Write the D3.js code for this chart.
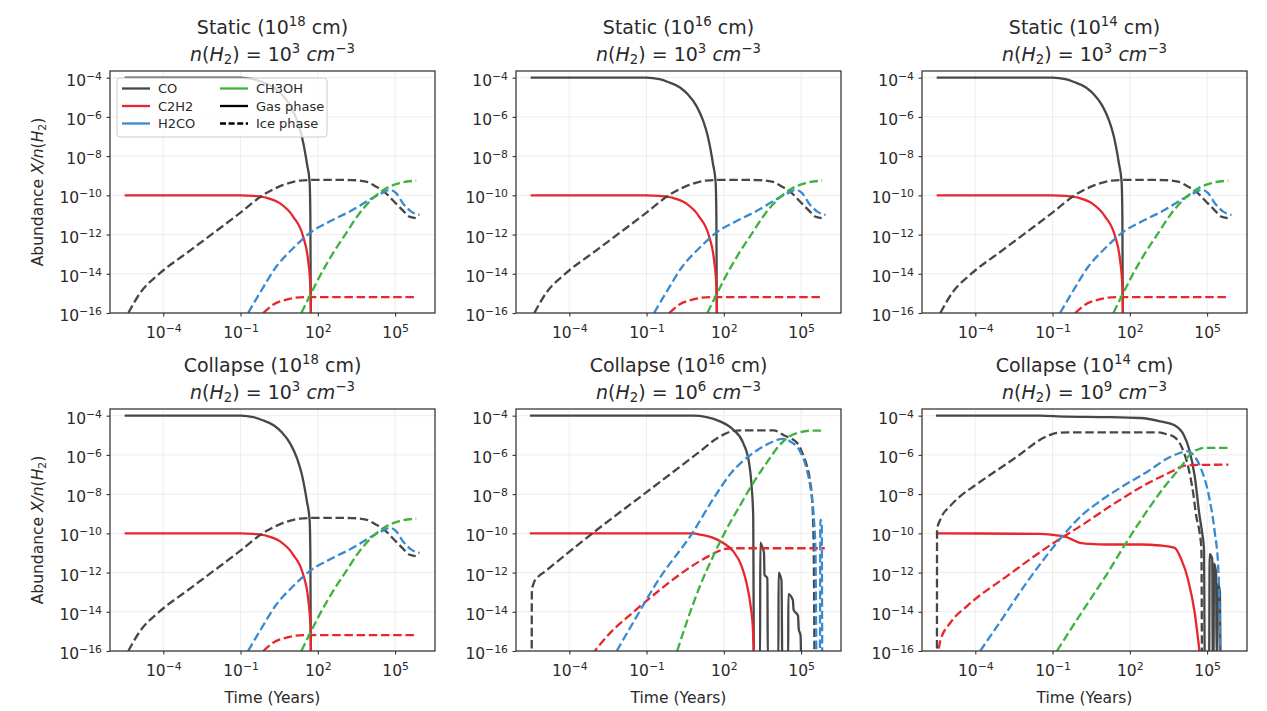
<!DOCTYPE html>
<html>
<head>
<meta charset="utf-8">
<script src="https://cdn.jsdelivr.net/npm/d3@7"></script>
<style>
body { margin: 0; background: #fff; }
svg { font-family: "DejaVu Sans", sans-serif; }
</style>
</head>
<body>
<svg id="fig" width="1267" height="711"></svg>
<script>
// species and styling
var species = ["CO", "C2H2", "H2CO", "CH3OH"];
var speciesColor = ["#474747", "#e8262b", "#3a8ad0", "#3cb33c"];

// ticks (powers of ten)
var xTickExp = [-4, -1, 2, 5];
var yTickExp = [-4, -6, -8, -10, -12, -14, -16];

// panel titles
var panelKind = ["Static", "Static", "Static", "Collapse", "Collapse", "Collapse"];
var panelSize = [18, 16, 14, 18, 16, 14];
var panelDensity = [3, 3, 3, 3, 6, 9];
var panelModel = ["static", "static", "static", "static", "c16", "c14"];

// curves: [log10 time (yr), log10 abundance]
// static runs (top row and collapse 1e18 look identical)
var staticCOGas = [[-5.5,-4],[-1.0,-4.0],[-0.5,-4.08],[-0.17,-4.22],[0.3,-4.5],[0.6,-4.85],[0.94,-5.45],[1.2,-6.2],[1.38,-7.0],[1.58,-8.4],[1.68,-9.3],[1.71,-11],[1.73,-16.5]];
var staticC2H2Gas = [[-5.5,-10],[-1.0,-10.0],[-0.5,-10.03],[0.0,-10.12],[0.52,-10.4],[1.04,-11.08],[1.43,-12.1],[1.62,-13.29],[1.71,-14.65],[1.74,-16.5]];
var staticCOIce = [[-5.36,-16],[-4.9,-14.98],[-4.13,-13.97],[-3.1,-12.95],[-2.06,-11.93],[-1.03,-10.91],[-0.12,-9.98],[0.66,-9.47],[1.3,-9.25],[1.94,-9.21],[3.3,-9.22],[3.87,-9.3],[4.25,-9.55],[4.64,-9.89],[5.02,-10.4],[5.28,-10.74],[5.54,-11.08],[5.8,-11.16]];
var staticC2H2Ice = [[-0.12,-16],[0.26,-15.58],[0.78,-15.32],[1.3,-15.2],[1.94,-15.19],[5.82,-15.19]];
var staticH2COIce = [[-0.71,-16],[-0.25,-14.98],[0.39,-13.63],[1.04,-12.7],[1.68,-11.93],[2.59,-11.25],[3.36,-10.74],[4.0,-10.23],[4.53,-9.86],[4.79,-9.72],[5.04,-9.89],[5.3,-10.4],[5.63,-10.83],[5.95,-11.0]];
var staticCH3OHIce = [[1.36,-16],[1.68,-15.15],[2.07,-14.14],[2.59,-12.95],[3.1,-11.93],[3.62,-10.91],[4.14,-10.15],[4.66,-9.64],[5.17,-9.38],[5.82,-9.25]];

// collapse 1e16 cm, n = 1e6
var c16COGas = [[-5.53,-4],[0.8,-4.0],[1.33,-4.07],[1.85,-4.29],[2.36,-4.71],[2.75,-5.39],[2.98,-6.4],[3.08,-7.6],[3.14,-9.1],[3.17,-16.5],
  [3.41,-16.5],[3.415,-10.47],[3.52,-10.8],[3.56,-11.0],[3.58,-12.1],[3.69,-12.3],[3.71,-16.5],
  [4.12,-16.5],[4.125,-12.0],[4.24,-12.4],[4.27,-16.5],
  [4.5,-16.5],[4.505,-13.1],[4.68,-13.4],[4.71,-13.9],[4.88,-14.2],[4.91,-14.9],[4.98,-15.2],[5.0,-16.5]];
var c16COIce = [[-5.46,-16.5],[-5.455,-13.0],[-5.4,-12.6],[-5.2,-12.2],[-5.0,-12.0],[-4.62,-11.6],[-3.2,-10.1],[-1.0,-7.9],[1.0,-5.9],[1.8,-5.1],[2.3,-4.8],[2.64,-4.75],[3.93,-4.75],[4.33,-5.0],[4.85,-5.39],[5.1,-6.07],[5.23,-6.58],[5.36,-7.43],[5.43,-8.28],[5.49,-10.8],[5.52,-16.5]];
var c16C2H2Gas = [[-5.53,-10],[0.8,-10.0],[1.07,-10.06],[1.59,-10.23],[1.98,-10.49],[2.36,-10.91],[2.69,-11.67],[2.88,-12.52],[3.04,-13.7],[3.13,-14.9],[3.17,-16.5]];
var c16C2H2Ice = [[-3.13,-16.2],[-2.5,-15.2],[-1.5,-14.0],[-0.5,-12.9],[0.5,-11.9],[1.5,-11.1],[1.98,-10.82],[2.36,-10.76],[5.92,-10.76]];
var c16H2COIce = [[-2.16,-16],[-1.5,-14.5],[-0.5,-12.3],[0.77,-10.0],[1.61,-8.2],[2.3,-6.9],[3.04,-6.0],[3.7,-5.45],[4.3,-5.18],[4.56,-5.3],[4.95,-5.8],[5.21,-6.7],[5.4,-8.0],[5.5,-9.3],[5.56,-11],[5.6,-16.5],[5.73,-16.5],[5.75,-9.3],[5.8,-9.5],[5.82,-16.5]];
var c16CH3OHIce = [[0.19,-16],[0.55,-14.56],[1.07,-12.7],[1.59,-11.16],[2.1,-9.8],[2.62,-8.6],[3.14,-7.43],[3.66,-6.41],[4.18,-5.48],[4.56,-5.05],[4.95,-4.85],[5.47,-4.76],[5.92,-4.76]];

// collapse 1e14 cm, n = 1e9
var c14COGas = [[-5.53,-4],[-1.5,-4.0],[-0.5,-4.05],[1.0,-4.07],[2.4,-4.12],[3.18,-4.29],[3.75,-4.5],[4.1,-5.0],[4.3,-5.7],[4.52,-7.09],[4.71,-9.13],[4.81,-9.97],[4.88,-10.82],[4.91,-16.5],
  [5.08,-16.5],[5.1,-11.06],[5.2,-11.3],[5.22,-16.5],[5.25,-16.5],[5.27,-11.55],[5.35,-12.0],[5.37,-16.5],[5.4,-16.5],[5.42,-12.56],[5.5,-13.0],[5.52,-16.5]];
var c14COIce = [[-5.49,-16.5],[-5.485,-9.8],[-5.36,-9.3],[-4.97,-8.6],[-4.58,-8.1],[-4.06,-7.6],[-2.5,-6.2],[-1.22,-5.05],[-0.83,-4.88],[-0.4,-4.85],[3.05,-4.85],[3.44,-4.95],[3.74,-5.1],[4.0,-5.56],[4.26,-6.58],[4.46,-7.94],[4.58,-9.13],[4.71,-9.97],[4.78,-10.82],[4.8,-16.5]];
var c14C2H2Gas = [[-5.53,-10],[-1.48,-10.03],[-0.83,-10.1],[-0.44,-10.2],[-0.18,-10.35],[0.07,-10.49],[0.46,-10.54],[1.11,-10.57],[2.4,-10.57],[3.18,-10.62],[3.74,-10.74],[4.0,-11.33],[4.26,-12.35],[4.52,-14.05],[4.65,-15.4],[4.75,-16.5]];
var c14C2H2Ice = [[-5.49,-16.5],[-5.36,-15.49],[-4.97,-14.56],[-4.32,-13.71],[-2.77,-12.18],[-0.96,-10.49],[0.12,-9.6],[1.42,-8.46],[2.71,-7.44],[3.62,-6.85],[4.0,-6.6],[4.26,-6.52],[5.83,-6.5]];
var c14H2COIce = [[-3.81,-16],[-3.03,-14.5],[-2.0,-12.5],[-0.64,-10.18],[0.12,-9.1],[0.8,-8.4],[1.42,-7.85],[2.71,-6.83],[3.62,-6.07],[4.26,-5.82],[4.5,-6.05],[4.78,-6.75],[5.1,-8.28],[5.3,-9.97],[5.43,-11.67],[5.49,-14.2],[5.52,-16.5]];
var c14CH3OHIce = [[-0.83,-16],[0.12,-14.05],[0.6,-13.1],[1.1,-12.1],[1.8,-10.6],[2.71,-8.78],[3.36,-7.6],[4.0,-6.58],[4.39,-5.9],[4.7,-5.7],[4.9,-5.64],[5.83,-5.64]];

// group curves per model: [data, species index, ice?]
var models = {
  static: [[staticCOGas,0,false],[staticC2H2Gas,1,false],[staticCOIce,0,true],[staticC2H2Ice,1,true],[staticH2COIce,2,true],[staticCH3OHIce,3,true]],
  c16: [[c16COGas,0,false],[c16C2H2Gas,1,false],[c16COIce,0,true],[c16C2H2Ice,1,true],[c16H2COIce,2,true],[c16CH3OHIce,3,true]],
  c14: [[c14COGas,0,false],[c14C2H2Gas,1,false],[c14COIce,0,true],[c14C2H2Ice,1,true],[c14H2COIce,2,true],[c14CH3OHIce,3,true]]
};

var colX = [110, 516, 922], rowY = [71, 409];
var pw = 325, ph = 242;
var dash = "8.5,3.7";
var tickFont = 15.5, titleFont = 19;

var svg = d3.select("#fig");
var defs = svg.append("defs");

// text with italic / super / subscript pieces
function rich(t, parts, size) {
    var shift = 0;
    parts.forEach(function (pt) {
        var s = t.append("tspan").text(pt[0]);
        var target = 0;
        if (pt[1] == "sup") { s.attr("font-size", size * 0.7); target = -size * 0.38; }
        if (pt[1] == "sub") { s.attr("font-size", size * 0.7); target = size * 0.2; }
        if (pt[1] == "i") s.attr("font-style", "italic");
        if (target != shift) { s.attr("dy", target - shift); shift = target; }
    });
}
function expText(e) { return e < 0 ? "\u2212" + (-e) : "" + e; }

for (var p = 0; p < 6; p++) {
    var col = p % 3, row = Math.floor(p / 3);
    var x0 = colX[col], y0 = rowY[row];
    var x = d3.scaleLog().domain([Math.pow(10, -6.07), Math.pow(10, 6.55)]).range([x0, x0 + pw]);
    var y = d3.scaleLog().domain([1e-16, Math.pow(10, -3.66)]).range([y0 + ph, y0]);

    defs.append("clipPath").attr("id", "clip" + p)
        .append("rect").attr("x", x0).attr("y", y0).attr("width", pw).attr("height", ph);

    var g = svg.append("g");

    // grid
    g.selectAll(".gx").data(xTickExp).enter().append("line")
        .attr("x1", function (d) { return x(Math.pow(10, d)); })
        .attr("x2", function (d) { return x(Math.pow(10, d)); })
        .attr("y1", y0).attr("y2", y0 + ph)
        .attr("stroke", "#e8e8e8").attr("stroke-width", 0.8);
    g.selectAll(".gy").data(yTickExp).enter().append("line")
        .attr("y1", function (d) { return y(Math.pow(10, d)); })
        .attr("y2", function (d) { return y(Math.pow(10, d)); })
        .attr("x1", x0).attr("x2", x0 + pw)
        .attr("stroke", "#e8e8e8").attr("stroke-width", 0.8);

    // curves
    var line = d3.line()
        .x(function (d) { return x(Math.pow(10, d[0])); })
        .y(function (d) { return y(Math.pow(10, d[1])); })
        .curve(d3.curveMonotoneX);
    var lg = g.append("g").attr("clip-path", "url(#clip" + p + ")");
    models[panelModel[p]].forEach(function (c) {
        lg.append("path")
            .attr("d", line(c[0]))
            .attr("fill", "none")
            .attr("stroke", speciesColor[c[1]])
            .attr("stroke-width", 2.3)
            .attr("stroke-dasharray", c[2] ? dash : null);
    });

    // axes
    var ax = g.append("g").attr("transform", "translate(0," + (y0 + ph) + ")")
        .call(d3.axisBottom(x).tickValues(xTickExp.map(function (e) { return Math.pow(10, e); })).tickSize(3.5));
    ax.select(".domain").remove();
    ax.selectAll(".tick line").attr("stroke", "#333").attr("stroke-width", 1.1);
    ax.selectAll(".tick text").each(function (d) {
        var t = d3.select(this).text(null).attr("y", 25).attr("dy", null)
            .attr("font-size", tickFont).attr("fill", "#2a2a2a").attr("font-family", "DejaVu Sans");
        rich(t, [["10", "n"], [expText(Math.round(Math.log10(d))), "sup"]], tickFont);
    });

    var ay = g.append("g").attr("transform", "translate(" + x0 + ",0)")
        .call(d3.axisLeft(y).tickValues(yTickExp.map(function (e) { return Math.pow(10, e); })).tickSize(3.5));
    ay.select(".domain").remove();
    ay.selectAll(".tick line").attr("stroke", "#333").attr("stroke-width", 1.1);
    ay.selectAll(".tick text").each(function (d) {
        var t = d3.select(this).text(null).attr("x", -8).attr("y", 7.5).attr("dy", null)
            .attr("font-size", tickFont).attr("fill", "#2a2a2a").attr("font-family", "DejaVu Sans");
        rich(t, [["10", "n"], [expText(Math.round(Math.log10(d))), "sup"]], tickFont);
    });

    // frame
    g.append("rect").attr("x", x0).attr("y", y0).attr("width", pw).attr("height", ph)
        .attr("fill", "none").attr("stroke", "#3a3a3a").attr("stroke-width", 1.3);

    // titles
    var cx = x0 + pw / 2;
    var t1 = g.append("text").attr("x", cx).attr("y", y0 - 37.5).attr("text-anchor", "middle")
        .attr("font-size", titleFont).attr("fill", "#2a2a2a");
    rich(t1, [[panelKind[p] + " (10", "n"], ["" + panelSize[p], "sup"], [" cm)", "n"]], titleFont);
    var t2 = g.append("text").attr("x", cx).attr("y", y0 - 10.5).attr("text-anchor", "middle")
        .attr("font-size", titleFont).attr("fill", "#2a2a2a");
    rich(t2, [["n", "i"], ["(", "n"], ["H", "i"], ["2", "sub"], [") = 10", "n"], ["" + panelDensity[p], "sup"],
              [" ", "n"], ["cm", "i"], ["\u22123", "sup"]], titleFont);

    // axis labels
    if (col == 0) {
        var yl = g.append("text").attr("transform", "translate(43," + (y0 + ph / 2) + ") rotate(-90)")
            .attr("text-anchor", "middle").attr("font-size", tickFont).attr("fill", "#2a2a2a");
        rich(yl, [["Abundance ", "n"], ["X/n", "i"], ["(", "n"], ["H", "i"], ["2", "sub"], [")", "n"]], tickFont);
    }
    if (row == 1) {
        g.append("text").attr("x", cx).attr("y", y0 + ph + 51.5).attr("text-anchor", "middle")
            .attr("font-size", tickFont).attr("fill", "#2a2a2a").text("Time (Years)");
    }
}

// legend (first panel)
var legendLabels = ["CO", "C2H2", "H2CO", "CH3OH", "Gas phase", "Ice phase"];
var legendColors = [speciesColor[0], speciesColor[1], speciesColor[2], speciesColor[3], "#000", "#000"];
var legendDash = [null, null, null, null, null, "6,2.6"];
var lgd = svg.append("g").attr("transform", "translate(117,78)");
lgd.append("rect").attr("width", 210).attr("height", 59).attr("rx", 3)
    .attr("fill", "#fff").attr("fill-opacity", 0.8).attr("stroke", "#cccccc").attr("stroke-width", 1);
legendLabels.forEach(function (lab, i) {
    var cxl = i < 3 ? 5 : 103, ry = 10.5 + (i % 3) * 17.5;
    lgd.append("line").attr("x1", cxl).attr("x2", cxl + 28).attr("y1", ry).attr("y2", ry)
        .attr("stroke", legendColors[i]).attr("stroke-width", 2.3).attr("stroke-dasharray", legendDash[i]);
    lgd.append("text").attr("x", cxl + 36).attr("y", ry + 4.5).attr("font-size", 13).attr("fill", "#2a2a2a").text(lab);
});
</script>
</body>
</html>
